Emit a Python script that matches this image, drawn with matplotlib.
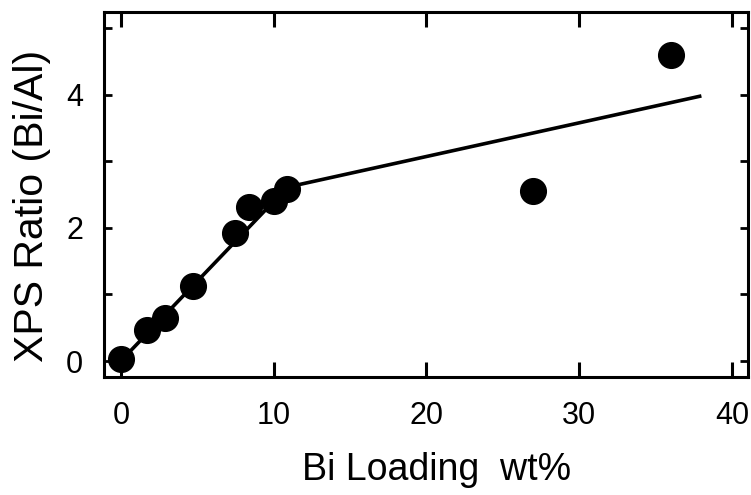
import matplotlib
matplotlib.use("Agg")
import matplotlib.pyplot as plt
from matplotlib import font_manager

# Data
bi_loading = [0.0, 1.7, 2.9, 4.7, 7.5, 8.4, 10.0, 10.9, 27.0, 36.0]
xps_ratio = [0.03, 0.47, 0.65, 1.13, 1.92, 2.31, 2.40, 2.58, 2.55, 4.59]

fit_x = [0.0, 10.9, 38.0]
fit_y = [0.0, 2.61, 3.98]

x_ticks = [0, 10, 20, 30, 40]
y_ticks = [0, 1, 2, 3, 4, 5]
y_ticklabels = ['0', '', '2', '', '4', '']

names = {f.name for f in font_manager.fontManager.ttflist}
fam = [n for n in ["Liberation Sans", "DejaVu Sans"] if n in names]
plt.rcParams['font.family'] = fam

fig = plt.figure(figsize=(7.51, 4.95), dpi=100)
ax = fig.add_axes([0.1385, 0.2384, 0.8575, 0.7374])

ax.plot(fit_x, fit_y, color='black', lw=2.6, solid_capstyle='butt', zorder=2)
ax.plot(bi_loading, xps_ratio, 'o', color='black', markersize=18.5, zorder=3)

ax.set_xlim(-1.1, 41.05)
ax.set_ylim(-0.24, 5.24)

ax.set_xticks(x_ticks)
ax.set_xticklabels([str(v) for v in x_ticks])
ax.set_yticks(y_ticks)
ax.set_yticklabels(y_ticklabels)

for s in ax.spines.values():
    s.set_linewidth(2.2)

ax.tick_params(axis='x', direction='in', length=11, width=2.2, top=True, bottom=True,
               labelsize=22, pad=17)
ax.tick_params(axis='y', direction='in', length=6, width=2.0, left=True, right=True,
               labelsize=22, pad=15)

ax.set_xlabel('Bi Loading  wt%', fontsize=27)
ax.xaxis.set_label_coords(0.517, -0.205)
ax.set_ylabel('XPS Ratio (Bi/Al)', fontsize=29.5)
ax.yaxis.set_label_coords(-0.082, 0.468)

fig.savefig('out.png', dpi=100)
